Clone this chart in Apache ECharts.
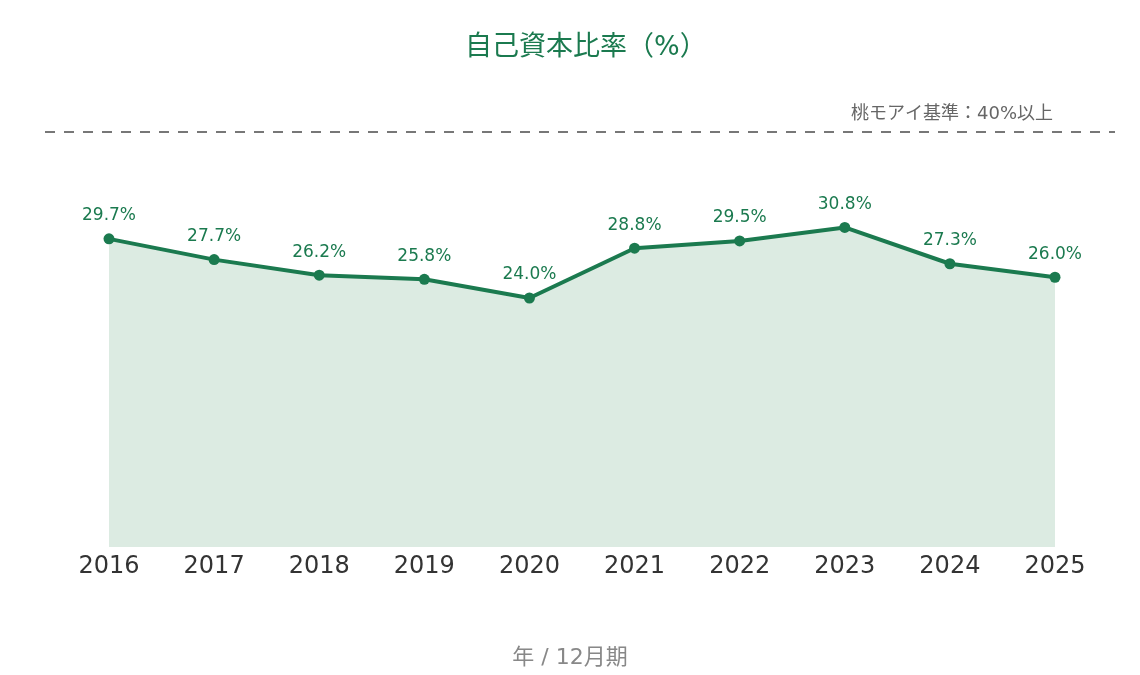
<!DOCTYPE html>
<html>
<head>
<meta charset="utf-8">
<script src="https://cdn.jsdelivr.net/npm/echarts@6/dist/echarts.min.js"></script>
<style>
  html, body { margin: 0; padding: 0; background: #fff; }
  #chart { width: 1140px; height: 675px; }
</style>
</head>
<body>
<div id="chart"></div>
<script>
const years = ['2016', '2017', '2018', '2019', '2020', '2021', '2022', '2023', '2024', '2025'];
const equityRatio = [29.7, 27.7, 26.2, 25.8, 24.0, 28.8, 29.5, 30.8, 27.3, 26.0];
const benchmark = 40;
const benchmarkLabel = '桃モアイ基準：40%以上';
const periodNote = '年 / 12月期';

const green = '#1b7a4f';
const font = "'DejaVu Sans', 'Noto Sans CJK JP', sans-serif";

const chart = echarts.init(document.getElementById('chart'));

chart.setOption({
  animation: false,
  textStyle: { fontFamily: font },
  title: [
    {
      text: '自己資本比率（%）',
      left: 460,
      top: 29,
      textStyle: { color: green, fontSize: 27, fontWeight: 'normal', fontFamily: font }
    },
    {
      text: periodNote,
      left: 'center',
      top: 642,
      textStyle: { color: '#888', fontSize: 22, fontWeight: 'normal', fontFamily: font }
    }
  ],
  grid: [
    { left: 109, right: 85, top: 132, bottom: 128 },
    { left: 45, right: 25, top: 132, bottom: 128 }
  ],
  xAxis: [
    {
      type: 'category',
      data: years,
      boundaryGap: false,
      gridIndex: 0,
      axisLine: { show: false },
      axisTick: { show: false },
      axisLabel: { color: '#333', fontSize: 24, margin: 8, fontFamily: font }
    },
    { type: 'value', gridIndex: 1, min: 0, max: 1, show: false }
  ],
  yAxis: [
    { type: 'value', gridIndex: 0, min: 0, max: 40, show: false },
    { type: 'value', gridIndex: 1, min: 0, max: 40, show: false }
  ],
  series: [
    {
      type: 'line',
      xAxisIndex: 0,
      yAxisIndex: 0,
      data: equityRatio,
      symbol: 'circle',
      symbolSize: 11,
      itemStyle: { color: green },
      lineStyle: { color: green, width: 4 },
      areaStyle: { color: '#dcebe2', opacity: 1 },
      label: {
        show: true,
        position: 'top',
        distance: 9,
        formatter: p => p.value.toFixed(1) + '%',
        color: green,
        fontSize: 17,
        fontFamily: font
      }
    },
    {
      type: 'line',
      xAxisIndex: 1,
      yAxisIndex: 1,
      data: [],
      markLine: {
        silent: true,
        symbol: 'none',
        data: [{ yAxis: benchmark }],
        lineStyle: { color: '#777', type: [10, 9], width: 2 },
        label: {
          show: true,
          position: 'insideEndTop',
          distance: [62, 9],
          formatter: benchmarkLabel,
          color: '#666',
          fontSize: 18,
          fontFamily: font
        }
      }
    }
  ]
});
</script>
</body>
</html>
